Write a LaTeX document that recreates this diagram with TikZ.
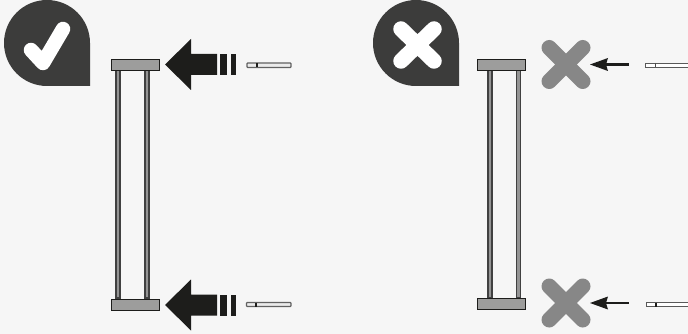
\documentclass[tikz,border=0pt]{standalone}
\usepackage{amsmath,amssymb}
\usetikzlibrary{positioning}
\definecolor{bgcol}{HTML}{F6F6F6}
\definecolor{dropcol}{HTML}{3C3C3B}
\definecolor{inkcol}{HTML}{1D1D1B}
\definecolor{barcol}{HTML}{9D9D9C}
\definecolor{crosscol}{HTML}{878787}
\tikzset{
	dropshape/.style={fill=dropcol},
	whitemark/.style={draw=white, line width=14.5pt, line cap=round, line join=round},
	greymark/.style={draw=crosscol, line width=15.5pt, line cap=round},
	barbox/.style={draw=inkcol, line width=0.9pt, fill=barcol, minimum width=48pt, minimum height=11pt, inner sep=0pt},
	postbox/.style={draw=black!75, line width=1.1pt, fill=black!42},
	arrowshape/.style={fill=inkcol},
	pingrey/.style={draw=black!62, line width=1.2pt, fill=black!8, rounded corners=0.8pt},
	pinwhite/.style={draw=black!65, line width=0.9pt, fill=white},
	pinmark/.style={draw=inkcol, line width=1.1pt}
}
\begin{document}
\begin{tikzpicture}[x=1pt, y=-1pt]
	\fill[bgcol] (0,0) rectangle (688,334);
	\useasboundingbox (0,0) rectangle (688,334);
	% speech drops
	\foreach \dx in {0,369} {
		\fill[dropshape, xshift=\dx pt] (90,43) arc[start angle=0, end angle=-270, radius=43] -- (90,86) -- cycle;
	}
	\draw[whitemark] (31,50) -- (43,63) -- (63,29);
	\draw[whitemark, line width=15.5pt] (401,29) -- (434,61);
	\draw[whitemark, line width=15.5pt] (401,61) -- (434,29);
	% posts
	\foreach \x in {116,145,488,516.5} {
		\draw[postbox] (\x,70) rectangle ++(4,228);
	}
	% bars
	\node[barbox] (topleft) at (135.5,65) {};
	\node[barbox] (botleft) at (135.5,304.5) {};
	\node[barbox] (topright) at (501.5,65) {};
	\node[barbox] (botright) at (501,304) {};
	% big arrows
	\foreach \y in {64.5,305} {
		\fill[arrowshape] (165,\y) -- (191,\y-25.5) -- (191,\y-10.5) -- (217,\y-10.5) -- (217,\y+10.5) -- (191,\y+10.5) -- (191,\y+25.5) -- cycle;
		\fill[arrowshape] (220,\y-10.5) rectangle (227,\y+10.5);
		\fill[arrowshape] (231,\y-10.5) rectangle (236,\y+10.5);
	}
	% crosses and small arrows
	\foreach \y in {64.5,303} {
		\draw[greymark] (549.25,\y-16.75) -- (582.75,\y+16.75);
		\draw[greymark] (549.25,\y+16.75) -- (582.75,\y-16.75);
		\draw[draw=inkcol, line width=2.6pt] (604,\y) -- (629,\y);
		\fill[arrowshape] (590,\y) -- (608,\y-6.5) -- (606,\y) -- (608,\y+6.5) -- cycle;
	}
	% pins
	\draw[pingrey] (247,63) rectangle (291,67.5);
	\draw[pinmark] (257,63) -- (257,67.5);
	\draw[pingrey] (246.5,302.5) rectangle (291,306.5);
	\draw[pinmark] (256,302.5) -- (256,306.5);
	\draw[pinwhite] (645.5,63) rectangle (690,67);
	\draw[pinmark, line width=0.8pt, draw=black!70] (655,63) -- (655,67);
	\draw[pinwhite] (646,302.5) rectangle (690,306.5);
	\draw[pinmark] (656,302.5) -- (656,306.5);
\end{tikzpicture}
\end{document}
